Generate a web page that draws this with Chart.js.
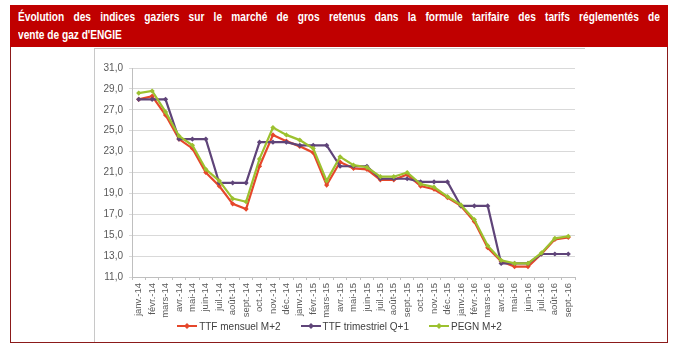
<!DOCTYPE html>
<html>
<head>
<meta charset="utf-8">
<script src="https://cdn.jsdelivr.net/npm/chart.js@4.4.1/dist/chart.umd.min.js"></script>
<style>
  html, body { margin: 0; padding: 0; background: #fff; }
  body { width: 680px; height: 352px; position: relative; overflow: hidden; }
  #titleBar {
    position: absolute; left: 10px; top: 5px; width: 658px; height: 42px;
    background: #c00000; overflow: hidden;
  }
  #titleText {
    position: absolute; left: 8px; top: 3px; width: 823px;
    transform: scaleX(0.78); transform-origin: 0 0;
    color: #fff; font: bold 13px "Liberation Sans", Arial, sans-serif; line-height: 18px;
  }
  #titleText .l1 { white-space: nowrap; text-align: justify; text-align-last: justify; }
  #titleText .l2 { white-space: nowrap; text-align: left; }
  #frame {
    position: absolute; left: 10px; top: 47px; width: 658px; height: 296px;
    box-sizing: border-box; border: 1px solid #8b1a1a; border-top: none;
  }
  #inner {
    position: absolute; left: 94px; top: 48px; width: 491px; height: 294px;
    box-sizing: border-box; border-left: 1px solid #c8c8c8; border-top: 1px solid #c8c8c8;
  }
  #wrap { position: absolute; left: 94px; top: 48px; width: 491px; height: 304px; }
  #legend {
    position: absolute; left: 94px; width: 491px; top: 319px; height: 14px;
    display: flex; justify-content: center; align-items: center;
    font: 10px "Liberation Sans", Arial, sans-serif; color: #404040;
  }
  #legend .item { display: flex; align-items: center; margin: 0 10px; white-space: nowrap; }
  #legend canvas { margin-right: 2px; }
</style>
</head>
<body>
<div id="titleBar"><div id="titleText"><div class="l1">Évolution des indices gaziers sur le marché de gros retenus dans la formule tarifaire des tarifs réglementés de</div><div class="l2">vente de gaz d'ENGIE</div></div></div>
<div id="frame"></div>
<div id="inner"></div>
<div id="wrap"><canvas id="chart" width="491" height="304"></canvas></div>
<div id="legend"></div>
<script>
const months = [
  'janv.-14', 'févr.-14', 'mars-14', 'avr.-14', 'mai-14', 'juin-14', 'juil.-14', 'août-14', 'sept.-14', 'oct.-14', 'nov.-14', 'déc.-14',
  'janv.-15', 'févr.-15', 'mars-15', 'avr.-15', 'mai-15', 'juin-15', 'juil.-15', 'août-15', 'sept.-15', 'oct.-15', 'nov.-15', 'déc.-15',
  'janv.-16', 'févr.-16', 'mars-16', 'avr.-16', 'mai-16', 'juin-16', 'juil.-16', 'août-16', 'sept.-16'
];

// TTF mensuel M+2
const ttfMensuel = [
  28.0, 28.3, 26.5, 24.2, 23.3, 21.0, 19.7, 18.0, 17.5, 21.6, 24.6, 24.0,
  23.5, 22.9, 19.8, 22.0, 21.4, 21.3, 20.3, 20.3, 20.8, 19.7, 19.4, 18.6,
  17.8, 16.3, 13.8, 12.5, 12.0, 12.0, 13.2, 14.6, 14.8
];

// TTF trimestriel Q+1
const ttfTrimestriel = [
  28.0, 28.0, 28.0, 24.2, 24.2, 24.2, 20.0, 20.0, 20.0, 23.9, 23.9, 23.9,
  23.6, 23.6, 23.6, 21.6, 21.6, 21.6, 20.4, 20.4, 20.4, 20.1, 20.1, 20.1,
  17.8, 17.8, 17.8, 12.3, 12.3, 12.3, 13.2, 13.2, 13.2
];

// PEGN M+2
const pegn = [
  28.6, 28.8, 26.8, 24.5, 23.6, 21.3, 20.2, 18.5, 18.2, 22.3, 25.3, 24.6,
  24.1, 23.3, 20.2, 22.5, 21.7, 21.5, 20.6, 20.6, 21.0, 19.9, 19.6, 18.7,
  17.9, 16.5, 14.0, 12.6, 12.3, 12.3, 13.3, 14.7, 14.9
];

const yTicks = [11, 13, 15, 17, 19, 21, 23, 25, 27, 29, 31];

const colRed = '#e5472b';
const colPurple = '#5f4479';
const colGreen = '#9cc12f';

// petit symbole de légende : trait + losange
function legendIcon(color) {
  const c = document.createElement('canvas');
  c.width = 20; c.height = 8;
  const g = c.getContext('2d');
  g.strokeStyle = color; g.lineWidth = 2;
  g.beginPath(); g.moveTo(0, 4); g.lineTo(20, 4); g.stroke();
  g.fillStyle = color;
  g.beginPath(); g.moveTo(10, 1); g.lineTo(13, 4); g.lineTo(10, 7); g.lineTo(7, 4); g.closePath(); g.fill();
  return c;
}

function makeSet(label, data, color, order) {
  return {
    label: label,
    data: data,
    order: order,
    borderColor: color,
    backgroundColor: color,
    borderWidth: 2.2,
    pointStyle: 'rectRot',
    pointRadius: 2.6,
    pointBorderWidth: 0,
    tension: 0,
    fill: false
  };
}

const ctx = document.getElementById('chart').getContext('2d');
const chart = new Chart(ctx, {
  type: 'line',
  data: {
    labels: months,
    datasets: [
      makeSet('TTF mensuel M+2', ttfMensuel, colRed, 3),
      makeSet('TTF trimestriel Q+1', ttfTrimestriel, colPurple, 2),
      makeSet('PEGN M+2', pegn, colGreen, 1)
    ]
  },
  options: {
    responsive: false,
    animation: false,
    devicePixelRatio: 1,
    layout: { padding: { top: 20, right: 10, bottom: 31, left: 0 } },
    plugins: {
      tooltip: { enabled: false },
      title: { display: false },
      legend: { display: false }
    },
    scales: {
      x: {
        offset: true,
        grid: {
          display: true,
          drawOnChartArea: false,
          offset: true,
          tickLength: 3,
          color: '#bfbfbf'
        },
        border: { color: '#bfbfbf' },
        ticks: {
          autoSkip: false,
          maxRotation: 90,
          minRotation: 90,
          padding: 3,
          color: '#595959',
          font: { family: 'Liberation Sans', size: 9.5 }
        },
        afterFit: function(s) { s.height = 44; }
      },
      y: {
        min: 11,
        max: 31,
        afterBuildTicks: function(s) { s.ticks = yTicks.map(v => ({ value: v })); },
        grid: { color: '#d9d9d9', lineWidth: 1, tickLength: 3, drawTicks: true },
        border: { color: '#bfbfbf' },
        ticks: {
          color: '#595959',
          padding: 6,
          font: { family: 'Liberation Sans', size: 10 },
          callback: function(v) { return v.toFixed(1).replace('.', ','); }
        },
        afterFit: function(s) { s.width = 38; }
      }
    }
  }
});

// légende en HTML sous le graphique
const legendBox = document.getElementById('legend');
chart.data.datasets.forEach(function(ds) {
  const item = document.createElement('div');
  item.className = 'item';
  item.appendChild(legendIcon(ds.borderColor));
  const span = document.createElement('span');
  span.textContent = ds.label;
  item.appendChild(span);
  legendBox.appendChild(item);
});
</script>
</body>
</html>
